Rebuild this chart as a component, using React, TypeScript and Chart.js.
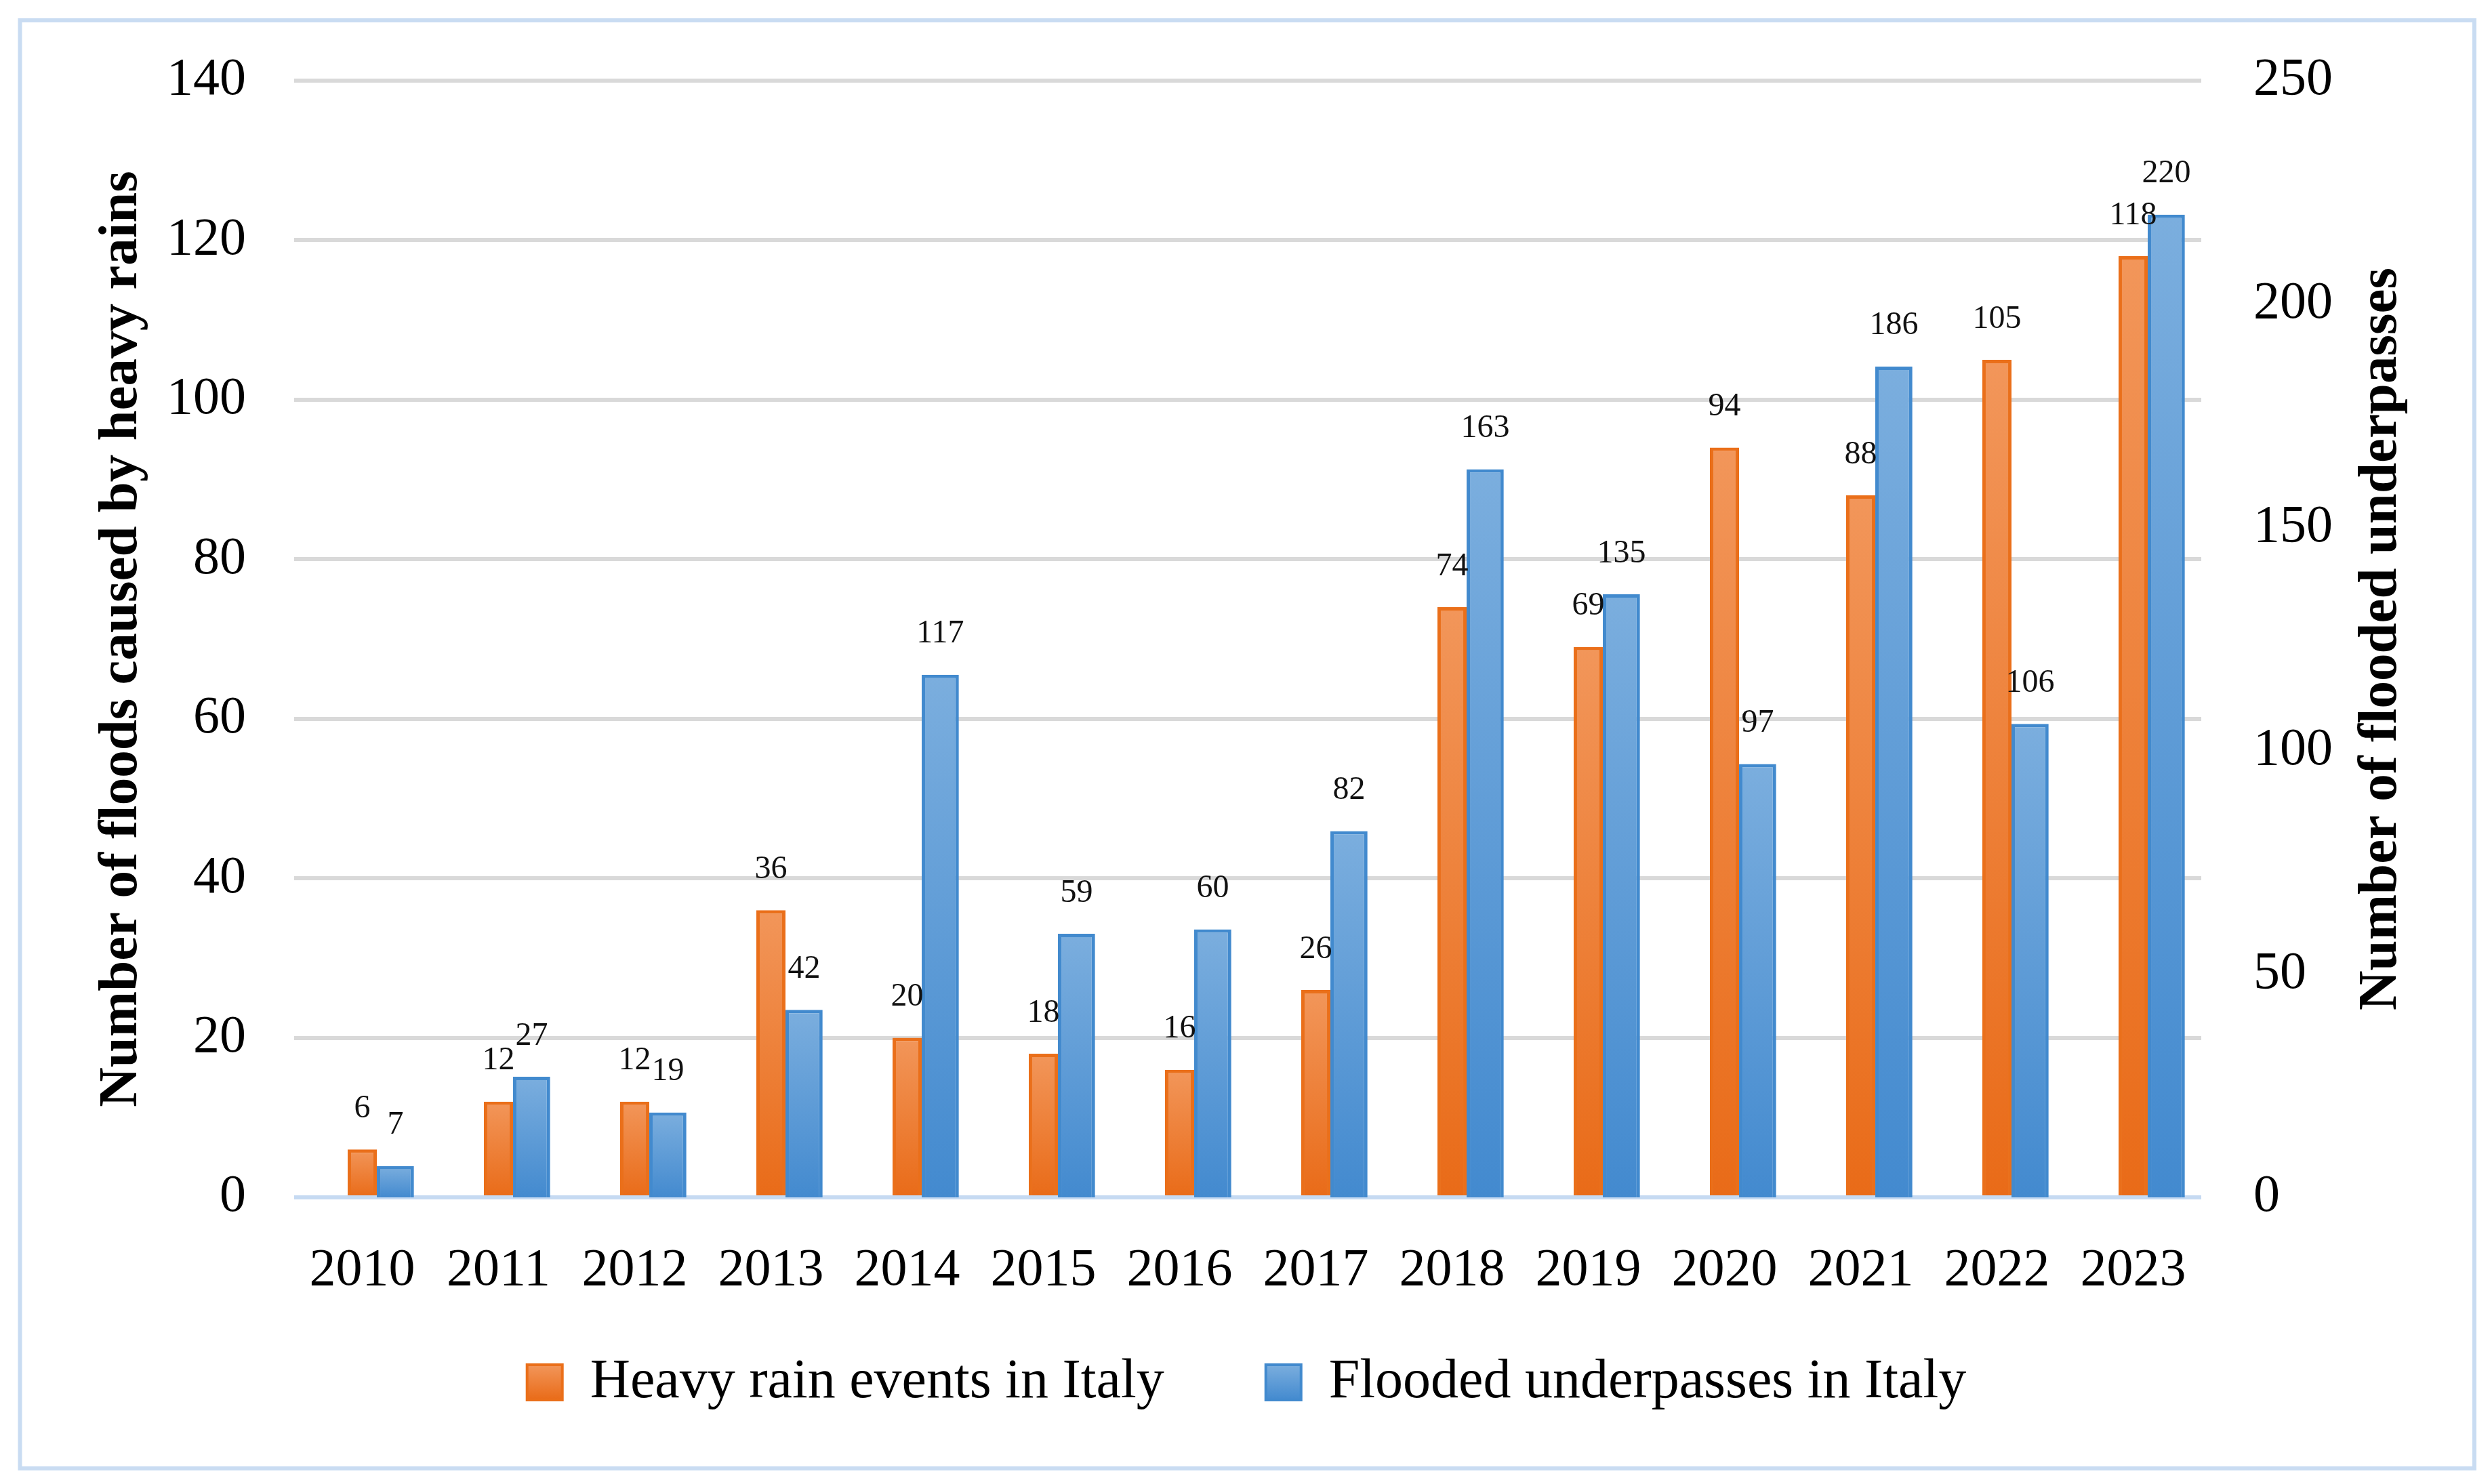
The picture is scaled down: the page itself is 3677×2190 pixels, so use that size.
import React, { useEffect, useRef } from "react";
import { Chart, registerables } from "chart.js";

Chart.register(...registerables);

// ---------- data ----------
const years = ["2010", "2011", "2012", "2013", "2014", "2015", "2016", "2017", "2018", "2019", "2020", "2021", "2022", "2023"];
const heavyRainEvents = [6, 12, 12, 36, 20, 18, 16, 26, 74, 69, 94, 88, 105, 118];
const floodedUnderpasses = [7, 27, 19, 42, 117, 59, 60, 82, 163, 135, 97, 186, 106, 220];
const seriesNames = ["Heavy rain events in Italy", "Flooded underpasses in Italy"];
const leftAxisRange = [0, 140];
const leftAxisStep = 20;
const rightAxisRange = [0, 250];
const rightAxisStep = 50;
const leftAxisTitle = "Number of floods caused by heavy rains";
const rightAxisTitle = "Number of flooded underpasses";

// ---------- layout / style ----------
const W = 3661;
const H = 2174;
const FONT = '"Liberation Serif", "Times New Roman", serif';
const LEGEND_FONT = 82;
const LEGEND_PAD = 150;
const LEGEND_BOX = 52;
const LEFT_TICK_GAP = 71;
const RIGHT_TICK_GAP = 77;

function barFill(top: string, bottom: string, solid: string) {
  return (c: any) => {
    if (c.type !== "data") return solid;
    const chart = c.chart;
    const v = c.raw;
    if (v === null || v === undefined) return "rgba(0,0,0,0)";
    const ys = chart.scales[c.dataset.yAxisID];
    if (!ys || !chart.chartArea) return solid;
    const y0 = ys.getPixelForValue(v);
    const y1 = ys.getPixelForValue(0);
    if (!isFinite(y0) || !isFinite(y1) || y0 === y1) return solid;
    const g = chart.ctx.createLinearGradient(0, y0, 0, y1);
    g.addColorStop(0, top);
    g.addColorStop(1, bottom);
    return g;
  };
}

const framePlugin = {
  id: "frame",
  afterLayout(chart: any) {
    const area = chart.chartArea;
    const x = chart.scales.x;
    if (x) x.bottom = x.top + 220; // let category labels extend below the thin x-axis box
    const y = chart.scales.y;
    if (y) y.right = area.left - LEFT_TICK_GAP; // gap between tick labels and plot
    const y1 = chart.scales.y1;
    if (y1) y1.left = area.right + RIGHT_TICK_GAP;
  },
  beforeDraw(chart: any) {
    const ctx = chart.ctx;
    ctx.save();
    ctx.fillStyle = "#ffffff";
    ctx.fillRect(0, 0, chart.width, chart.height);
    ctx.strokeStyle = "#C9DCF2";
    ctx.lineWidth = 6;
    ctx.strokeRect(21.5, 22, 3643 - 21.5, 2159 - 22);
    ctx.restore();
  },
};

const valueLabelPlugin = {
  id: "valueLabels",
  afterDatasetsDraw(chart: any) {
    const ctx = chart.ctx;
    ctx.save();
    ctx.font = `48px ${FONT}`;
    ctx.fillStyle = "#111111";
    ctx.textAlign = "center";
    ctx.textBaseline = "middle";
    [1, 2].forEach((di) => {
      const meta = chart.getDatasetMeta(di);
      const data = chart.data.datasets[di].data;
      meta.data.forEach((el: any, i: number) => {
        const v = data[i];
        if (v === null || v === undefined) return;
        ctx.fillText(String(v), el.x, el.y - 60);
      });
    });
    ctx.restore();
  },
};

const axisTitlePlugin = {
  id: "axisTitles",
  afterDraw(chart: any) {
    const ctx = chart.ctx;
    const area = chart.chartArea;
    const cy = (area.top + area.bottom) / 2;
    ctx.save();
    ctx.font = `bold 81px ${FONT}`;
    ctx.fillStyle = "#000000";
    ctx.textAlign = "center";
    ctx.textBaseline = "middle";
    const draw = (text: string, x: number) => {
      ctx.save();
      ctx.translate(x, cy);
      ctx.rotate(-Math.PI / 2);
      ctx.fillText(text, 0, 0);
      ctx.restore();
    };
    draw(leftAxisTitle, 172);
    draw(rightAxisTitle, 3506);
    ctx.restore();
  },
};

export default function App() {
  const ref = useRef<HTMLCanvasElement | null>(null);

  useEffect(() => {
    if (!ref.current) return;
    const legendBoxTop = 2006;
    const chart = new Chart(ref.current, {
      type: "bar",
      data: {
        labels: years,
        datasets: [
          {
            label: "",
            data: years.map(() => null),
            yAxisID: "y",
            backgroundColor: "rgba(0,0,0,0)",
            borderWidth: 0,
          },
          {
            label: seriesNames[0],
            data: heavyRainEvents,
            yAxisID: "y",
            backgroundColor: barFill("#F2965A", "#E96B18", "#ED7F3A"),
            borderColor: "#EA6F1A",
            borderWidth: 5,
            barPercentage: 0.88,
            categoryPercentage: 0.73,
          },
          {
            label: seriesNames[1],
            data: floodedUnderpasses,
            yAxisID: "y1",
            backgroundColor: barFill("#7BAEDE", "#438ACF", "#5E9BD6"),
            borderColor: "#428ACE",
            borderWidth: 5,
            barPercentage: 1.12,
            categoryPercentage: 0.73,
          },
        ] as any,
      },
      options: {
        animation: false,
        responsive: false,
        devicePixelRatio: 1,
        layout: { padding: { left: 20, right: 18, top: 111, bottom: 91 } },
        plugins: {
          title: { display: false },
          tooltip: { enabled: false },
          legend: {
            position: "bottom",
            labels: {
              font: { family: FONT, size: LEGEND_FONT },
              color: "#000000",
              boxWidth: LEGEND_BOX,
              boxHeight: LEGEND_BOX,
              padding: LEGEND_PAD,
              generateLabels: (c: any) => {
                const base = (Chart.defaults.plugins.legend.labels as any).generateLabels(c);
                const tops = ["#F2965A", "#7BAEDE"];
                const bottoms = ["#E96B18", "#438ACF"];
                return base
                  .filter((it: any) => it.datasetIndex !== 0)
                  .map((it: any) => {
                    const k = it.datasetIndex - 1;
                    const g = c.ctx.createLinearGradient(0, legendBoxTop, 0, legendBoxTop + LEGEND_BOX);
                    g.addColorStop(0, tops[k]);
                    g.addColorStop(1, bottoms[k]);
                    it.fillStyle = g;
                    it.strokeStyle = c.data.datasets[it.datasetIndex].borderColor;
                    it.lineWidth = 4;
                    return it;
                  });
              },
            },
          },
        },
        scales: {
          x: {
            grid: { display: false, drawTicks: false },
            border: { display: false },
            ticks: {
              font: { family: FONT, size: 78 },
              color: "#000000",
              padding: 62,
              autoSkip: false,
              maxRotation: 0,
            },
            afterFit: (s: any) => {
              s.height = 82;
            },
          },
          y: {
            position: "left",
            min: leftAxisRange[0],
            max: leftAxisRange[1],
            ticks: {
              stepSize: leftAxisStep,
              font: { family: FONT, size: 78 },
              color: "#000000",
              padding: 0,
            },
            grid: {
              drawTicks: false,
              lineWidth: 6,
              color: (c: any) => (c.tick && c.tick.value === 0 ? "#C6DAF2" : "#D9D9D9"),
            },
            border: { display: false },
            afterFit: (s: any) => {
              s.width = 406;
            },
          },
          y1: {
            position: "right",
            min: rightAxisRange[0],
            max: rightAxisRange[1],
            ticks: {
              stepSize: rightAxisStep,
              font: { family: FONT, size: 78 },
              color: "#000000",
              padding: 0,
            },
            grid: { display: false, drawTicks: false },
            border: { display: false },
            afterFit: (s: any) => {
              s.width = 403;
            },
          },
        },
      } as any,
      plugins: [framePlugin, valueLabelPlugin, axisTitlePlugin],
    });
    return () => chart.destroy();
  }, []);

  return (
    <div style={{ width: W, height: H }}>
      <canvas ref={ref} width={W} height={H} style={{ display: "block", width: W, height: H }} />
    </div>
  );
}
